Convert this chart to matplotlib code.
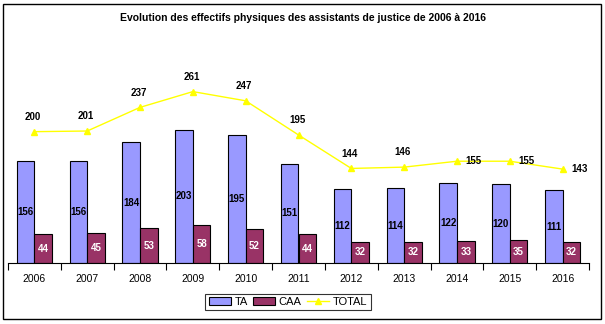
import matplotlib.pyplot as plt
from matplotlib.patches import Rectangle
import numpy as np

plt.rcParams['font.family'] = ['Liberation Sans', 'DejaVu Sans']

years = ['2006', '2007', '2008', '2009', '2010', '2011', '2012', '2013', '2014', '2015', '2016']
ta = [156, 156, 184, 203, 195, 151, 112, 114, 122, 120, 111]
caa = [44, 45, 53, 58, 52, 44, 32, 32, 33, 35, 32]
total = [200, 201, 237, 261, 247, 195, 144, 146, 155, 155, 143]

W, H = 605, 324
fig = plt.figure(figsize=(W / 100, H / 100), dpi=100)
ax = fig.add_axes([8 / W, (H - 263) / H, 581 / W, 197 / H])

x = np.arange(len(years))
bw = 1 / 3
b1 = ax.bar(x - bw / 2, ta, bw, color='#9999FF', edgecolor='black', linewidth=0.8, label='TA', zorder=2)
b2 = ax.bar(x + bw / 2, caa, bw, color='#993366', edgecolor='black', linewidth=0.8, label='CAA', zorder=2)
l1, = ax.plot(x, total, color='#FFFF00', marker='^', markersize=5, linewidth=1, label='TOTAL', zorder=3)

for i in x:
    ax.text(i - bw / 2, ta[i] / 2, str(ta[i]), ha='center', va='center', fontsize=7, fontweight='bold', color='black')
    ax.text(i + bw / 2, caa[i] / 2, str(caa[i]), ha='center', va='center', fontsize=7, fontweight='bold', color='white')
    if i >= 8:
        ax.annotate(str(total[i]), (i, total[i]), xytext=(6, 0), textcoords='offset points',
                    ha='left', va='center', fontsize=7, fontweight='bold')
    else:
        ax.annotate(str(total[i]), (i, total[i]), xytext=(-1, 7), textcoords='offset points',
                    ha='center', va='bottom', fontsize=7, fontweight='bold')

ax.set_xlim(-0.5, len(years) - 0.5)
ax.set_ylim(0, 300)
ax.set_xticks(x)
ax.set_xticklabels(years, fontsize=7.5)
ax.set_xticks(np.arange(len(years) + 1) - 0.5, minor=True)
ax.tick_params(axis='x', which='major', length=0, pad=8)
ax.tick_params(axis='x', which='minor', length=5, width=0.8, direction='out')
ax.set_yticks([])
for s in ['top', 'right', 'left']:
    ax.spines[s].set_visible(False)
ax.spines['bottom'].set_linewidth(0.8)

fig.text(0.5, 1 - 18 / H, 'Evolution des effectifs physiques des assistants de justice de 2006 à 2016',
         ha='center', va='center', fontsize=7.5, fontweight='bold')

leg = fig.legend([b1, b2, l1], ['TA', 'CAA', 'TOTAL'], loc='center', bbox_to_anchor=(288 / W, 1 - 302 / H),
                 ncol=3, fontsize=8, frameon=True, fancybox=False, edgecolor='black', handlelength=2.0,
                 handletextpad=0.3, columnspacing=0.5, borderpad=0.3)
leg.get_frame().set_linewidth(0.8)

fig.patches.append(Rectangle((3 / W, 5 / H), 598 / W, 315 / H, transform=fig.transFigure,
                             fill=False, edgecolor='black', linewidth=1))

fig.savefig('out.png', dpi=100)
